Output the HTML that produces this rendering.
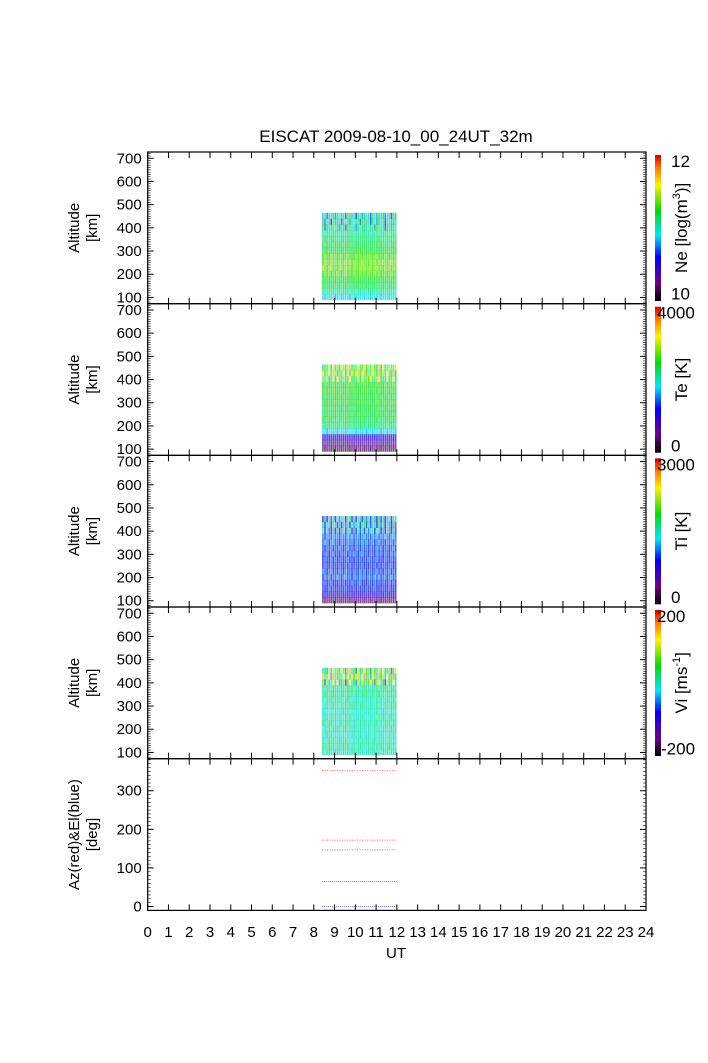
<!DOCTYPE html>
<html><head><meta charset="utf-8">
<style>
html,body{margin:0;padding:0;background:#fff;}
svg{display:block;font-family:"Liberation Sans",Helvetica,sans-serif;}
</style></head>
<body>
<svg id="chart" width="708" height="1063" viewBox="0 0 708 1063" xmlns="http://www.w3.org/2000/svg">
<text x="396" y="142" font-size="17" text-anchor="middle" fill="#000">EISCAT 2009-08-10_00_24UT_32m</text>
<g id="g"></g>
</svg>
<script>
// ---- data ----
const hourTicks = [0,1,2,3,4,5,6,7,8,9,10,11,12,13,14,15,16,17,18,19,20,21,22,23,24];
const times = [8.4,8.5,8.6,8.7,8.8,8.9,9.0,9.1,9.2,9.3,9.4,9.5,9.6,9.7,9.8,9.9,10.0,10.1,10.2,10.3,10.4,10.5,10.6,10.7,10.8,10.9,11.0,11.1,11.2,11.3,11.4,11.5,11.6,11.7,11.8,11.9];
const altBins = [90,115,140,165,190,215,240,265,290,315,340,365,390,415,440];
const altTicks = [100,200,300,400,500,600,700];
const neProfile = [10.9,11.05,11.15,11.2,11.3,11.35,11.35,11.3,11.2,11.15,11.1,11.05,11.0,10.95,10.95];
const teProfile = [300,700,1000,1800,2200,2300,2350,2350,2400,2400,2450,2450,2500,2700,2600];
const tiProfile = [300,750,900,950,1050,1000,950,950,1000,1000,1050,1100,1100,1200,1150];
const viProfile = [0,5,0,-5,0,5,0,-5,5,0,10,10,30,60,40];
const colNoise = [0.3,-0.8,0.5,1.0,-0.4,0.2,-1.0,0.7,0.1,-0.6,0.9,-0.2,0.4,-0.9,0.6,0.0,-0.5,1.0,-0.3,0.8,-0.7,0.2,0.5,-1.0,0.3,0.9,-0.4,0.1,-0.8,0.6,-0.2,0.7,-0.6,0.4,-0.1,0.8];
const azValues = [352,172,147];
const elValues = [65,0];
const beamStart = 8.4, beamEnd = 12.0;

// ---- layout ----
const X0=147.7, X1=646, PT=[152,303.7,455.3,607,758.7], PH=151.7;
const xs = h => X0 + (h/24)*(X1-X0);
const g = document.getElementById('g');
const NS='http://www.w3.org/2000/svg';
function mk(tag, attrs, parent){const e=document.createElementNS(NS,tag);for(const k in attrs)e.setAttribute(k,attrs[k]);(parent||g).appendChild(e);return e;}
function cmap(t){t=Math.max(0,Math.min(1,t));
 const st=[[0,0,0,0],[0.12,110,0,140],[0.3,0,0,255],[0.45,0,230,255],[0.62,0,220,0],[0.8,255,240,0],[0.92,255,120,0],[1,230,0,0]];
 for(let i=1;i<st.length;i++){if(t<=st[i][0]){const a=st[i-1],b=st[i],f=(t-a[0])/(b[0]-a[0]);
  return `rgb(${Math.round(a[1]+f*(b[1]-a[1]))},${Math.round(a[2]+f*(b[2]-a[2]))},${Math.round(a[3]+f*(b[3]-a[3]))})`;}}
 return 'rgb(230,0,0)';}

const panels=[
 {prof:neProfile,min:10,max:12,noise:0.08,label:'Ne [log(m',sup:'3',tail:')]',ticks:['12','10'],name:'ne'},
 {prof:teProfile,min:0,max:4000,noise:200,label:'Te [K]',ticks:['4000','0'],name:'te'},
 {prof:tiProfile,min:0,max:3000,noise:150,label:'Ti [K]',ticks:['3000','0'],name:'ti'},
 {prof:viProfile,min:-200,max:200,noise:25,label:'Vi [ms',sup:'-1',tail:']',ticks:['200','-200'],name:'vi'}
];
const AMIN=73, AMAX=727;
panels.forEach((p,pi)=>{
 const top=PT[pi], ys=a=>top+PH-(a-AMIN)/(AMAX-AMIN)*PH;
 const grp=mk('g',{});
 
 
 times.forEach((t,ti)=>{
  altBins.forEach((a,ai)=>{
   const hi = ai>=12 ? 4 : 1;
   const v=p.prof[ai]+colNoise[(ti+ai*7)%colNoise.length]*p.noise*hi;
   const r=mk('rect',{x:xs(t),y:ys(a+25),width:xs(t+0.1)-xs(t)-0.4,height:ys(a)-ys(a+25)+0.3,fill:cmap((v-p.min)/(p.max-p.min)),opacity:0.72},grp);
   
   
  });
 });
 // y ticks
 altTicks.forEach(a=>{const y=ys(a);
  mk('line',{x1:X0,x2:X0+6,y1:y,y2:y,stroke:'#000'});
  mk('line',{x1:X1,x2:X1-6,y1:y,y2:y,stroke:'#000'});
  const tx=mk('text',{x:X0-6,y:y+5,'font-size':15,'text-anchor':'end'});tx.textContent=a;
  
  
 });
 for(let a=80;a<=720;a+=10){const y=ys(a);mk('line',{x1:X0,x2:X0+3,y1:y,y2:y,stroke:'#000','stroke-width':0.6});mk('line',{x1:X1,x2:X1-3,y1:y,y2:y,stroke:'#000','stroke-width':0.6});}
 const yt=mk('text',{transform:`translate(79,${top+PH/2}) rotate(-90)`,'font-size':15,'text-anchor':'middle'});yt.textContent='Altitude';
 
 
 const yt2=mk('text',{transform:`translate(97,${top+PH/2}) rotate(-90)`,'font-size':15,'text-anchor':'middle'});yt2.textContent='[km]';
 
 
 // colorbar
 const cb=mk('g',{});
 
 
 const cbT=top+3, cbH=PH-6;
 for(let i=0;i<100;i++){mk('rect',{x:655,y:cbT+cbH*(1-(i+1)/100),width:6,height:cbH/100+0.3,fill:cmap(i/99)},cb);}
 const l1=mk('text',{x:p.ticks[0].length>2?657:671,y:cbT+12,'font-size':17},cb);l1.textContent=p.ticks[0];
 const l2=mk('text',{x:p.ticks[1].length>2?661:671,y:cbT+cbH-1,'font-size':17},cb);l2.textContent=p.ticks[1];
 const lab=mk('text',{transform:`translate(687,${top+PH/2}) rotate(-90)`,'font-size':17,'text-anchor':'middle'},cb);
 lab.textContent=p.label;
 if(p.sup){const s=mk('tspan',{dy:-7,'font-size':11},lab);s.textContent=p.sup;const r=mk('tspan',{dy:7},lab);r.textContent=p.tail;}
});
// panel 5
{
 const top=PT[4], DMIN=-10, DMAX=383, ys=d=>top+PH-(d-DMIN)/(DMAX-DMIN)*PH;
 [0,100,200,300].forEach(d=>{const y=ys(d);
  mk('line',{x1:X0,x2:X0+6,y1:y,y2:y,stroke:'#000'});mk('line',{x1:X1,x2:X1-6,y1:y,y2:y,stroke:'#000'});
  const tx=mk('text',{x:X0-6,y:y+5,'font-size':15,'text-anchor':'end'});tx.textContent=d;
  
  
 });
 for(let d=-10;d<=380;d+=10){const y=ys(d);mk('line',{x1:X0,x2:X0+3,y1:y,y2:y,stroke:'#000','stroke-width':0.6});mk('line',{x1:X1,x2:X1-3,y1:y,y2:y,stroke:'#000','stroke-width':0.6});}
 azValues.forEach(v=>{const l=mk('line',{x1:xs(beamStart),x2:xs(beamEnd),y1:ys(v),y2:ys(v),stroke:'#f66','stroke-width':1,'stroke-dasharray':'1,1.5'});
  
  });
 elValues.forEach(v=>{const l=mk('line',{x1:xs(beamStart),x2:xs(beamEnd),y1:ys(v),y2:ys(v),stroke:'#77f','stroke-width':1,'stroke-dasharray':'1,1'});
  
  });
 const t1=mk('text',{transform:`translate(79,${top+PH/2}) rotate(-90)`,'font-size':15,'text-anchor':'middle'});t1.textContent='Az(red)&El(blue)';
 
 
 const t2=mk('text',{transform:`translate(97,${top+PH/2}) rotate(-90)`,'font-size':15,'text-anchor':'middle'});t2.textContent='[deg]';
 
 
}
// frames & x ticks
PT.forEach(top=>{
 mk('rect',{x:X0,y:top,width:X1-X0,height:PH,fill:'none',stroke:'#000','stroke-width':1.2});
 hourTicks.forEach(h=>{const x=xs(h);
  mk('line',{x1:x,x2:x,y1:top,y2:top+6,stroke:'#000'});mk('line',{x1:x,x2:x,y1:top+PH,y2:top+PH-6,stroke:'#000'});});
});
hourTicks.forEach(h=>{const t=mk('text',{x:xs(h),y:937,'font-size':15,'text-anchor':'middle'});t.textContent=h;
 
 });
const xt=mk('text',{x:396,y:958,'font-size':15,'text-anchor':'middle'});xt.textContent='UT';


</script>
</body></html>
